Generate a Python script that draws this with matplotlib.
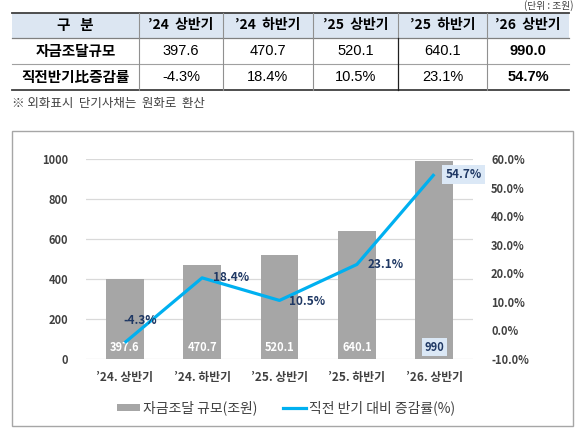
import matplotlib
matplotlib.use("Agg")
import matplotlib.pyplot as plt
from matplotlib.patches import Patch, Rectangle
from matplotlib.lines import Line2D
from matplotlib.ticker import FuncFormatter, MultipleLocator

plt.rcParams['font.family'] = ['Noto Sans CJK KR', 'DejaVu Sans']

# ---- data ----
table_headers = ["’24  상반기", "’24  하반기", "’25  상반기", "’25  하반기", "’26  상반기"]
xtick_labels = ["’24. 상반기", "’24. 하반기", "’25. 상반기", "’25. 하반기", "’26. 상반기"]
funding = [397.6, 470.7, 520.1, 640.1, 990.0]
growth = [-4.3, 18.4, 10.5, 23.1, 54.7]
row_names = ["자금조달규모", "직전반기比증감률"]
legend_labels = ["자금조달 규모(조원)", "직전 반기 대비 증감률(%)"]

W, H = 580, 437
fig = plt.figure(figsize=(W / 100, H / 100), dpi=100)

# background axes in pixel coordinates
bg = fig.add_axes([0, 0, 1, 1])
bg.set_xlim(0, W)
bg.set_ylim(H, 0)
bg.axis('off')
bg.set_zorder(0)

# ---- table ----
col_edges = [12, 139, 223, 313, 398, 487, 569]
row_edges = [12.5, 38, 64, 90]
navy = '#1f3864'
bg.add_patch(Rectangle((col_edges[0], row_edges[0]), col_edges[-1] - col_edges[0],
                       row_edges[1] - row_edges[0], facecolor='#dce6f2', edgecolor='none'))
bg.plot([col_edges[0], col_edges[-1]], [row_edges[0]] * 2, color='#404040', lw=1.3)
bg.plot([col_edges[0], col_edges[-1]], [row_edges[-1]] * 2, color='#404040', lw=1.3)
bg.plot([col_edges[0], col_edges[-1]], [row_edges[1]] * 2, color='#808080', lw=0.9)
bg.plot([col_edges[0], col_edges[-1]], [row_edges[2]] * 2, color='#a0a0a0', lw=0.8)
for i, xe in enumerate(col_edges[1:-1]):
    c = '#202020' if i == 3 else '#909090'
    bg.plot([xe, xe], [row_edges[0], row_edges[1]], color='#909090', lw=0.8)
    bg.plot([xe, xe], [row_edges[1], row_edges[-1]], color=c, lw=0.9 if i == 3 else 0.8)

centers = [(col_edges[i] + col_edges[i + 1]) / 2 for i in range(len(col_edges) - 1)]
rc = [(row_edges[i] + row_edges[i + 1]) / 2 for i in range(3)]
bg.text(centers[0], rc[0], "구   분", ha='center', va='center', fontsize=10.5,
        fontweight='bold', color='black')
for j, h in enumerate(table_headers):
    bg.text(centers[j + 1], rc[0], h, ha='center', va='center', fontsize=10,
            fontweight='bold', color='black')
for r, name in enumerate(row_names):
    bg.text(centers[0], rc[r + 1], name, ha='center', va='center', fontsize=10.5,
            fontweight='bold', color='black')
for j in range(5):
    last = j == 4
    bg.text(centers[j + 1], rc[1], f"{funding[j]:.1f}", ha='center', va='center',
            fontsize=10.5, family=['Liberation Sans', 'DejaVu Sans'],
            fontweight='bold' if last else 'normal', color='black')
    bg.text(centers[j + 1], rc[2], f"{growth[j]:.1f}%", ha='center', va='center',
            fontsize=10.5, family=['Liberation Sans', 'DejaVu Sans'],
            fontweight='bold' if last else 'normal', color='black')

bg.text(12, 103, "※ 외화표시  단기사채는  원화로  환산", ha='left', va='center',
        fontsize=9, color='#404040')
bg.text(574, 11, "(단위 : 조원)", ha='right', va='bottom', fontsize=7, color='#404040')

# chart frame
bg.add_patch(Rectangle((12, 131), 561, 295, facecolor='white', edgecolor='#a6a6a6', lw=1))

# ---- chart ----
ax_l, ax_r = 86, 473
ax_t, ax_b = 159, 359
ax = fig.add_axes([ax_l / W, 1 - ax_b / H, (ax_r - ax_l) / W, (ax_b - ax_t) / H])
ax.set_zorder(2)
ax.patch.set_alpha(0)
x = list(range(len(funding)))
bar_color = '#a6a6a6'
line_color = '#00b0f0'
ax.bar(x, funding, width=0.49, color=bar_color, zorder=2)
ax.set_xlim(-0.5, 4.5)
ax.set_ylim(0, 1000)
ax.yaxis.set_major_locator(MultipleLocator(200))
ax.grid(axis='y', color='#d9d9d9', lw=0.9, zorder=0)
ax.set_axisbelow(True)
for s in ax.spines.values():
    s.set_visible(False)
ax.tick_params(axis='both', length=0, colors='#404040')
ax.tick_params(axis='y', pad=13, labelsize=8)
ax.tick_params(axis='x', pad=9, labelsize=8.5)
ax.set_xticks(x)
ax.set_xticklabels(xtick_labels, fontweight='bold', color='#404040')
for t in ax.get_yticklabels():
    t.set_fontweight('bold')

ax2 = ax.twinx()
ax2.set_ylim(-10, 60)
ax2.yaxis.set_major_locator(MultipleLocator(10))
ax2.yaxis.set_major_formatter(FuncFormatter(lambda v, p: f"{v:.1f}%"))
for s in ax2.spines.values():
    s.set_visible(False)
ax2.tick_params(axis='y', length=0, pad=13, labelsize=8, colors='#404040')
for t in ax2.get_yticklabels():
    t.set_fontweight('bold')
ax2.plot(x, growth, color=line_color, lw=2.3, solid_capstyle='butt', zorder=3)

# bar value labels
for i, v in enumerate(funding):
    last = i == len(funding) - 1
    txt = f"{v:.0f}" if last else f"{v:.1f}"
    kw = dict(ha='center', va='center', fontsize=8, fontweight='bold',
              textcoords='offset points', xytext=(0, 8.5))
    if last:
        ax.annotate(txt, xy=(i, 0), color=navy,
                    bbox=dict(boxstyle='square,pad=0.25', facecolor='#dbe8f6', edgecolor='none'),
                    **kw)
    else:
        ax.annotate(txt, xy=(i, 0), color='white', **kw)

# line labels
offsets = [(-1, 16), (8, 0), (7, -1), (8, 0), (8, 0)]
for i, g in enumerate(growth):
    last = i == len(growth) - 1
    kw = dict(ha='left', va='center', fontsize=8.5, fontweight='bold', color=navy,
              textcoords='offset points', xytext=offsets[i], zorder=5)
    if last:
        kw['bbox'] = dict(boxstyle='square,pad=0.25', facecolor='#dbe8f6', edgecolor='none')
    ax2.annotate(f"{g:.1f}%", xy=(i, g), **kw)

# legend
handles = [Patch(facecolor=bar_color, edgecolor='none'),
           Line2D([0], [0], color=line_color, lw=2.3)]
fig.legend(handles, legend_labels, loc='center', ncol=2,
           bbox_to_anchor=(286 / W, 1 - 408 / H), frameon=False,
           prop={'size': 10}, handlelength=1.7, handleheight=0.45, handletextpad=0.2,
           columnspacing=1.8, labelcolor='#404040')

fig.savefig("out.png", dpi=100)
